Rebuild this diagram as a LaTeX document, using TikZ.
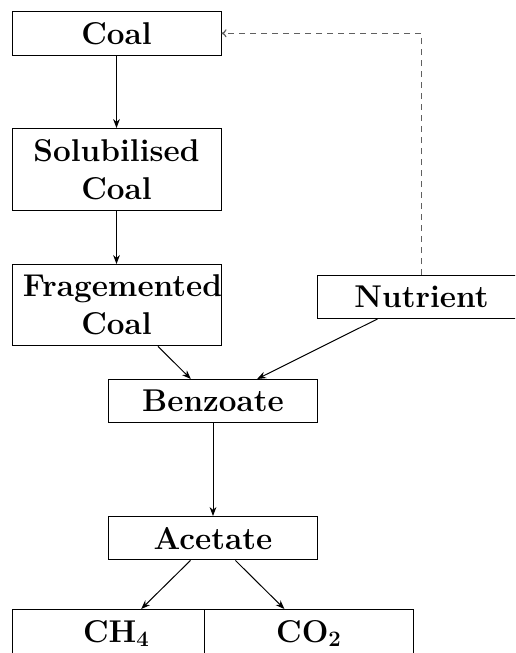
\documentclass[tikz,border=0pt]{standalone}
\usetikzlibrary{arrows.meta}
\begin{document}
\begin{tikzpicture}[x=0.5pt,y=-0.5pt,
  stepbox/.style={draw=black, fill=white, line width=0.5pt, text width=93.5pt, align=center,
    inner xsep=5.5pt, inner ysep=5.3pt, anchor=north,
    font=\fontsize{15.75}{19}\selectfont\bfseries},
  flow/.style={line width=0.5pt, -{Stealth[length=4.5pt,width=3.4pt]}},
  feedback/.style={line width=0.6pt, draw=gray!75!black, dash pattern=on 3pt off 2.5pt, -{To[length=2.5pt,width=4pt]}}]
\clip (0,0) rectangle (515,653);
\useasboundingbox (0,0) rectangle (515,653);
\node[stepbox] (coal) at (116.5,11) {Coal};
\node[stepbox] (sol) at (116.5,128) {Solubilised\\Coal};
\node[stepbox] (frag) at (116.5,264) {Fragemented\\Coal};
\node[stepbox] (nut) at (421.5,275) {Nutrient};
\node[stepbox] (benz) at (213,379) {Benzoate};
\node[stepbox] (acet) at (213,516) {Acetate};
\node[stepbox] (ch4) at (116.5,609) {CH\textsubscript{4}};
\node[stepbox] (co2) at (309,609) {CO\textsubscript{2}};
\draw[flow] (coal) -- (sol);
\draw[flow] (sol) -- (frag);
\draw[flow] (frag) -- (benz);
\draw[flow] (nut) -- (benz);
\draw[flow] (benz) -- (acet);
\draw[flow] (acet) -- (ch4);
\draw[flow] (acet) -- (co2);
\draw[feedback] (nut.north) |- (coal.east);
\end{tikzpicture}
\end{document}
